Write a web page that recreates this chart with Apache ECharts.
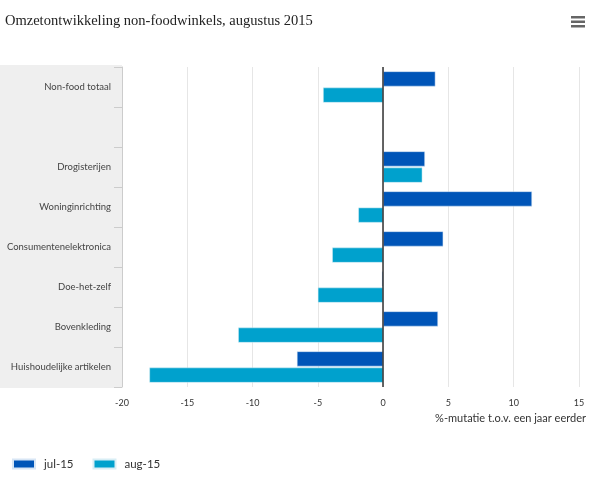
<!DOCTYPE html>
<html>
<head>
<meta charset="utf-8">
<script src="https://cdn.jsdelivr.net/npm/echarts@6/dist/echarts.min.js"></script>
<style>html,body{margin:0;padding:0;background:#fff}#c{width:600px;height:480px}</style>
</head>
<body>
<div id="c"></div>
<script>
const categories = ['Non-food totaal', '', 'Drogisterijen', 'Woninginrichting', 'Consumentenelektronica', 'Doe-het-zelf', 'Bovenkleding', 'Huishoudelijke artikelen'];
const jul15 = [4.0, null, 3.2, 11.4, 4.6, -0.1, 4.2, -6.6];
const aug15 = [-4.6, null, 3.0, -1.9, -3.9, -5.0, -11.1, -17.9];
const seriesNames = ['jul-15', 'aug-15'];
const xTicks = { min: -20, max: 15, interval: 5 };
const titleText = 'Omzetontwikkeling non-foodwinkels, augustus 2015';
const xAxisName = '%-mutatie t.o.v. een jaar eerder';

const chart = echarts.init(document.getElementById('c'), null, { renderer: 'canvas' });
const gridL = 122, gridT = 67, gridR = 21, gridB = 93;
chart.setOption({
  animation: false,
  textStyle: { fontFamily: 'Lato, "Open Sans", sans-serif' },
  title: {
    text: titleText, left: 0, top: 9,
    textStyle: { fontFamily: '"Liberation Serif", "DejaVu Serif", serif', fontSize: 14.5, fontWeight: 'normal', color: '#222' }
  },
  graphic: [
    { type: 'rect', left: 0, top: gridT - 2, shape: { width: gridL, height: 480 - gridT - gridB + 3 }, style: { fill: '#efefef' }, z: -10 },
    { type: 'group', left: 571, top: 16, children: [
      { type: 'rect', shape: { x: 0, y: 0, width: 14, height: 2.5 }, style: { fill: '#666' } },
      { type: 'rect', shape: { x: 0, y: 4.5, width: 14, height: 2.5 }, style: { fill: '#666' } },
      { type: 'rect', shape: { x: 0, y: 9, width: 14, height: 2.5 }, style: { fill: '#666' } }
    ]}
  ],
  legend: {
    left: 7, top: 453, itemWidth: 22, itemHeight: 9, itemGap: 19, icon: 'rect',
    textStyle: { fontSize: 11.5, color: '#333', fontFamily: 'Lato, "Open Sans", sans-serif', padding: [0, 0, 0, 4] },
    data: seriesNames
  },
  grid: { left: gridL, top: gridT, right: gridR, bottom: gridB },
  xAxis: {
    type: 'value', min: xTicks.min, max: xTicks.max, interval: xTicks.interval,
    axisLine: { show: false }, axisTick: { show: false },
    splitLine: { show: true, lineStyle: { color: '#e6e6e6', width: 1 } },
    axisLabel: { fontSize: 9, color: '#333', margin: 12 },
    name: xAxisName, nameLocation: 'end', nameGap: 7,
    nameTextStyle: { fontSize: 11, color: '#333', align: 'right', verticalAlign: 'top', padding: [26, 0, 0, 0] }
  },
  yAxis: {
    type: 'category', data: categories, inverse: true,
    axisLine: { show: true, onZero: false, lineStyle: { color: '#ccc' } },
    axisTick: { show: true, length: 8, lineStyle: { color: '#ccc' } },
    axisLabel: { fontSize: 9.5, color: '#444', margin: 11 },
    splitLine: { show: false }
  },
  series: [
    {
      name: seriesNames[0], type: 'bar', data: jul15, barWidth: 15, barGap: '8%',
      itemStyle: { color: '#0055b8', borderColor: '#d8e6f5', borderWidth: 0.5 },
      markLine: {
        silent: true, symbol: 'none', label: { show: false },
        lineStyle: { color: '#333', width: 1.5, type: 'solid' },
        data: [{ xAxis: 0 }]
      }
    },
    {
      name: seriesNames[1], type: 'bar', data: aug15, barWidth: 15,
      itemStyle: { color: '#00a1cd', borderColor: '#d8eef5', borderWidth: 0.5 }
    }
  ]
});
</script>
</body>
</html>
